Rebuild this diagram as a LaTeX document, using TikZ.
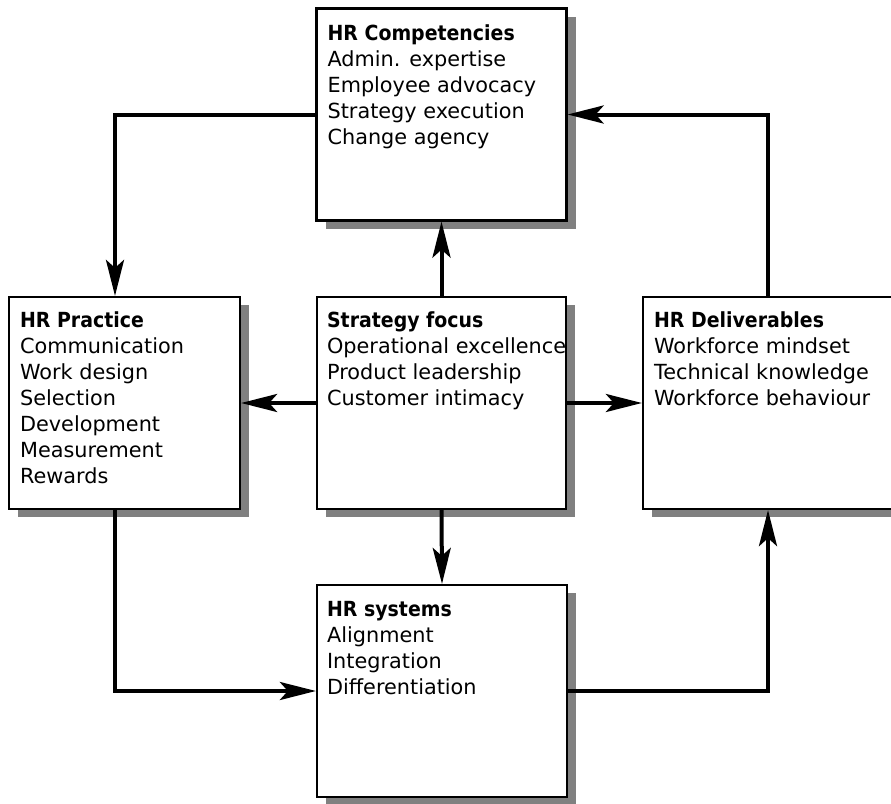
\documentclass[tikz,border=0pt]{standalone}
\usepackage{fontspec}
\setmainfont{DejaVu Sans}[BoldFeatures={FakeStretch=0.91}]
\usetikzlibrary{arrows.meta,shadows}

\definecolor{shadowgray}{HTML}{808080}
% invisible strut that fixes the height of the first line above its baseline
\newcommand{\firstline}{\rule{0pt}{20pt}}

\tikzset{
  stage/.style={draw=black, line width=2.2pt, fill=white, rectangle, inner sep=0pt,
    minimum height=212pt,
    drop shadow={shadow xshift=9pt, shadow yshift=-8pt, fill=shadowgray, opacity=1}},
  stagetext/.style={anchor=north west, inner sep=0pt, align=left,
    font=\fontsize{20.8}{26}\selectfont},
  flow/.style={line width=4pt,
    -{Stealth[length=36pt, width=18pt, inset=8pt]}}
}

\begin{document}
\begin{tikzpicture}[x=1pt, y=-1pt]
  \useasboundingbox (0,0) rectangle (891,803);
  \clip (0,0) rectangle (891,803);

  % the five boxes
  \node[stage, minimum width=250pt] (comp)  at (441.5,114.5) {};
  \node[stage, minimum width=231pt] (prac)  at (124.5,403)   {};
  \node[stage, minimum width=249pt] (strat) at (441.5,403)   {};
  \node[stage, minimum width=250pt] (deliv) at (768,403)     {};
  \node[stage, minimum width=250pt] (sys)   at (442,691)     {};

  % box contents (first baseline 20pt below each text node's top)
  \node[stagetext] (comptext) at ([xshift=12pt, yshift=-13pt]comp.north west)
    {\firstline\textbf{HR Competencies}\\Admin. expertise\\Employee advocacy\\Strategy execution\\Change agency};
  \node[stagetext] (practext) at ([xshift=12pt, yshift=-11pt]prac.north west)
    {\firstline\textbf{HR Practice}\\Communication\\Work design\\Selection\\Development\\Measurement\\Rewards};
  \node[stagetext] (strattext) at ([xshift=11pt, yshift=-11pt]strat.north west)
    {\firstline\textbf{Strategy focus}\\Operational excellence\\Product leadership\\Customer intimacy};
  \node[stagetext] (delivtext) at ([xshift=12pt, yshift=-11pt]deliv.north west)
    {\firstline\textbf{HR Deliverables}\\Workforce mindset\\Technical knowledge\\Workforce behaviour};
  \node[stagetext] (systext) at ([xshift=11pt, yshift=-12pt]sys.north west)
    {\firstline\textbf{HR systems}\\Alignment\\Integration\\Differentiation};

  % connectors out of the strategy box
  \draw[flow] (strat.north) -- (comp.south);
  \draw[flow] (strat.south) -- (sys.north);
  \draw[flow] (strat.west)  -- (prac.east);
  \draw[flow] (strat.east)  -- (deliv.west);

  % the outer cycle
  \coordinate (pracin)  at ([xshift=-9.5pt]prac.north);
  \coordinate (pracout) at ([xshift=-9.5pt]prac.south);
  \draw[flow] (comp.west) -| (pracin);
  \draw[flow] (pracout) |- (sys.west);
  \draw[flow] (sys.east) -| (deliv.south);
  \draw[flow] (deliv.north) |- (comp.east);
\end{tikzpicture}
\end{document}
